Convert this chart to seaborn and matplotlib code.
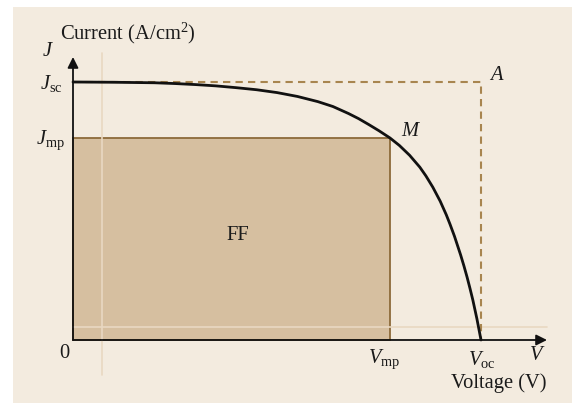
import numpy as np
import pandas as pd
import matplotlib
matplotlib.use('Agg')
import matplotlib.pyplot as plt
import seaborn as sns
from matplotlib.patches import Rectangle

# ---------- dados (V normalizado por Voc, J por Jsc) ----------
tensao   = [0.0, 0.1, 0.2, 0.25, 0.3, 0.35, 0.4, 0.45, 0.5, 0.55, 0.6, 0.637,
            0.675, 0.7, 0.725, 0.75, 0.777, 0.8, 0.825, 0.85, 0.865, 0.882,
            0.9, 0.915, 0.924, 0.935, 0.95, 0.958, 0.966, 0.973, 0.98, 0.99, 1.0]
corrente = [1.0, 0.999, 0.997, 0.994, 0.990, 0.985, 0.978, 0.970, 0.959, 0.944,
            0.924, 0.905, 0.878, 0.858, 0.835, 0.811, 0.783, 0.754, 0.716, 0.670,
            0.636, 0.592, 0.538, 0.485, 0.449, 0.402, 0.33, 0.288, 0.243, 0.200,
            0.155, 0.082, 0.0]
v_mp, j_mp = 0.777, 0.783
v_oc, j_sc = 1.0, 1.0

# ---------- geometria (pixels da referência -> unidades dos dados) ----------
W, H = 572, 403
x0_px, xoc_px = 73, 481
y0_px, ysc_px = 340, 82
sx = (xoc_px - x0_px) / v_oc
sy = (y0_px - ysc_px) / j_sc

def px(x, y):
    return (x - x0_px) / sx, (y0_px - y) / sy

cor_fundo = '#f3ebdf'
cor_rect  = '#d6bfa0'
cor_borda = '#8c6a3a'
cor_trac  = '#a8854f'
cor_clara = '#e9d8c2'

sns.set_theme(style='white')
plt.rcParams['font.family'] = ['Liberation Serif', 'DejaVu Serif']
plt.rcParams['mathtext.fontset'] = 'custom'
plt.rcParams['mathtext.rm'] = 'Liberation Serif'
plt.rcParams['mathtext.it'] = 'Liberation Serif:italic'

fig = plt.figure(figsize=(W / 100, H / 100), dpi=100)
fig.patch.set_facecolor('white')
ax = fig.add_axes([13 / W, 0, (W - 13) / W, (H - 7) / H])
ax.set_facecolor(cor_fundo)
xa, ya = px(13, 403)
xb, yb = px(W, 7)
ax.set_xlim(xa, xb)
ax.set_ylim(ya, yb)
for s in ax.spines.values():
    s.set_visible(False)
ax.set_xticks([])
ax.set_yticks([])

# linhas claras de fundo
xl, _ = px(102, 0)
_, yt = px(0, 53)
_, ybt = px(0, 375)
ax.plot([xl, xl], [ybt, yt], color=cor_clara, lw=1.2, zorder=3)
_, yh = px(0, 327)
xr, _ = px(547, 0)
ax.plot([0, xr], [yh, yh], color=cor_clara, lw=1.2, zorder=3)

# retângulo FF
ax.add_patch(Rectangle((0, 0), v_mp, j_mp, facecolor=cor_rect,
                       edgecolor=cor_borda, lw=1.3, zorder=2))

# retângulo tracejado até A
ax.plot([0, v_oc, v_oc], [j_sc, j_sc, 0], color=cor_trac, lw=1.5,
        ls=(0, (3.5, 2.5)), zorder=3)

# curva J-V
df = pd.DataFrame({'V': tensao, 'J': corrente})
sns.lineplot(data=df, x='V', y='J', color='#111111', lw=2.0, ax=ax,
             sort=False, zorder=5)
ax.set_xlabel('')
ax.set_ylabel('')

# eixos com setas
xt, _ = px(547, 0)
_, ytop = px(0, 57)
arrow = dict(arrowstyle='-|>', lw=1.3, color='#111111', mutation_scale=16,
             shrinkA=0, shrinkB=0)
ax.annotate('', xy=(xt, 0), xytext=(0, 0), arrowprops=arrow, zorder=6)
ax.annotate('', xy=(0, ytop), xytext=(0, 0), arrowprops=arrow, zorder=6)

fs = 14.8
def texto(x, y, s, ha='center', **kw):
    ax.text(*px(x, y), s, ha=ha, va='center', fontsize=fs, color='#1a1a1a', **kw)

texto(60, 33, r'Current (A/cm$^2$)', ha='left')
texto(48, 51, r'$J$')
texto(63, 84, r'$J_{\rm sc}$', ha='right')
texto(65, 140, r'$J_{\rm mp}$', ha='right')
texto(64, 353, '0')
texto(384, 359, r'$V_{\rm mp}$')
texto(482, 359, r'$V_{\rm oc}$')
texto(537, 355, r'$V$')
texto(499, 383, 'Voltage (V)')
texto(411, 131, r'$M$')
texto(497, 75, r'$A$')
texto(238, 236, 'FF')

fig.savefig('out.png', dpi=100)
